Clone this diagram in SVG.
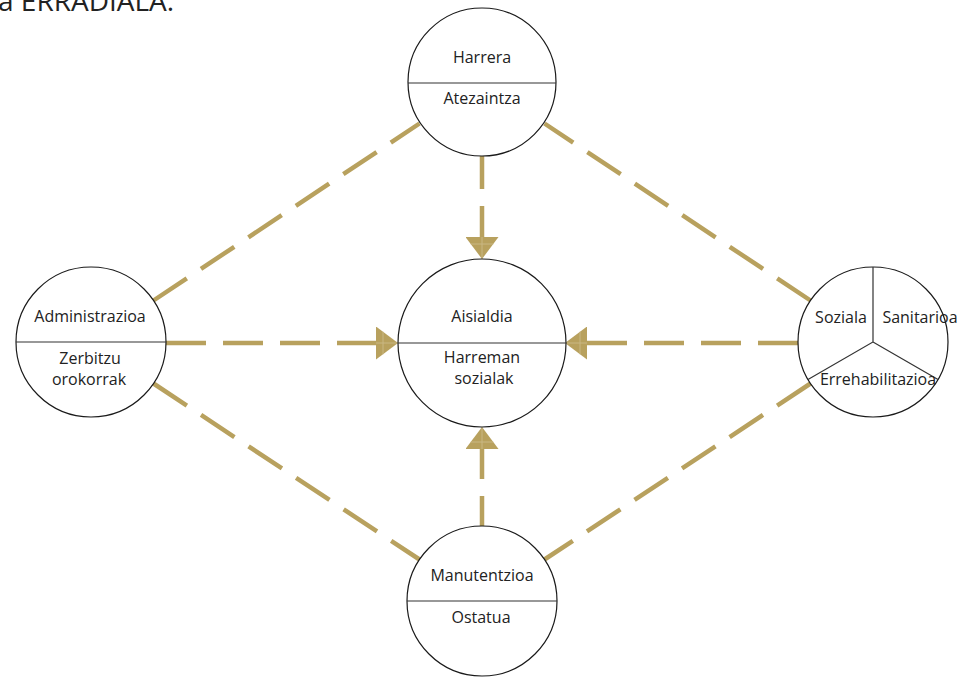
<svg xmlns="http://www.w3.org/2000/svg" width="960" height="677" viewBox="0 0 960 677">
<defs>
<style>
.node circle{fill:#fff;stroke:#1a1a1a;stroke-width:1.2}
.div{stroke:#333;stroke-width:1.2;fill:none}
.t{font-family:"Open Sans","Noto Sans",sans-serif;font-size:16px;fill:#222;text-anchor:middle}
.title{font-family:"Open Sans","Noto Sans",sans-serif;font-size:28px;fill:#222}
.c{stroke:#b8a15e;stroke-width:4.5;fill:none;stroke-dasharray:40 17}
.ca{marker-end:url(#ah)}
</style>
<marker id="ah" markerUnits="userSpaceOnUse" viewBox="0 0 22 33" refX="0" refY="16.5" markerWidth="22" markerHeight="33" orient="auto">
<path d="M0,0 L22,16.5 L0,33 Z" fill="#b8a15e"/>
<path d="M0,16.5 L22,16.5 M7,5.25 L7,27.75" stroke="#c9b783" stroke-width="1" fill="none"/>
</marker>
</defs>
<rect width="960" height="677" fill="#fff"/>
<text class="title" x="-2" y="11">a ERRADIALA.</text>
<g id="connectors">
<path class="c" d="M153.5,300.5 L419.5,123.5"/>
<path class="c" d="M810.5,300.5 L544.5,123.5"/>
<path class="c" d="M153.5,383.5 L419.5,559.5"/>
<path class="c" d="M810.5,383.5 L544.5,559.5"/>
<path class="c ca" d="M166,343 L376,343"/>
<path class="c ca" d="M798,343 L587,343"/>
<path class="c ca" style="stroke-dasharray:33 17" d="M482,156 L482,237"/>
<path class="c ca" style="stroke-dasharray:30 17" d="M482,526 L482,449"/>
</g>
<g id="harrera" class="node">
<circle cx="482" cy="82" r="74"/>
<line class="div" x1="408" y1="83" x2="556" y2="83"/>
<text class="t" x="482" y="63">Harrera</text>
<text class="t" x="482" y="104">Atezaintza</text>
</g>
<g id="aisialdia" class="node">
<circle cx="482" cy="343" r="84"/>
<line class="div" x1="398" y1="343" x2="566" y2="343"/>
<text class="t" x="482" y="322">Aisialdia</text>
<text class="t" x="482" y="363">Harreman</text>
<text class="t" x="484" y="384">sozialak</text>
</g>
<g id="administrazioa" class="node">
<circle cx="91" cy="342" r="75"/>
<line class="div" x1="16" y1="342" x2="166" y2="342"/>
<text class="t" x="90" y="322">Administrazioa</text>
<text class="t" x="90" y="364">Zerbitzu</text>
<text class="t" x="89" y="385">orokorrak</text>
</g>
<g id="manutentzioa" class="node">
<circle cx="482" cy="601" r="75"/>
<line class="div" x1="407" y1="601" x2="557" y2="601"/>
<text class="t" x="482" y="581">Manutentzioa</text>
<text class="t" x="481" y="623">Ostatua</text>
</g>
<g id="soziala" class="node">
<circle cx="873" cy="342" r="75"/>
<path class="div" d="M873,267 L873,342 L808,379.5 M873,342 L938,379.5"/>
<text class="t" x="841" y="323">Soziala</text>
<text class="t" x="920" y="323">Sanitarioa</text>
<text class="t" x="878" y="385">Errehabilitazioa</text>
</g>
</svg>
